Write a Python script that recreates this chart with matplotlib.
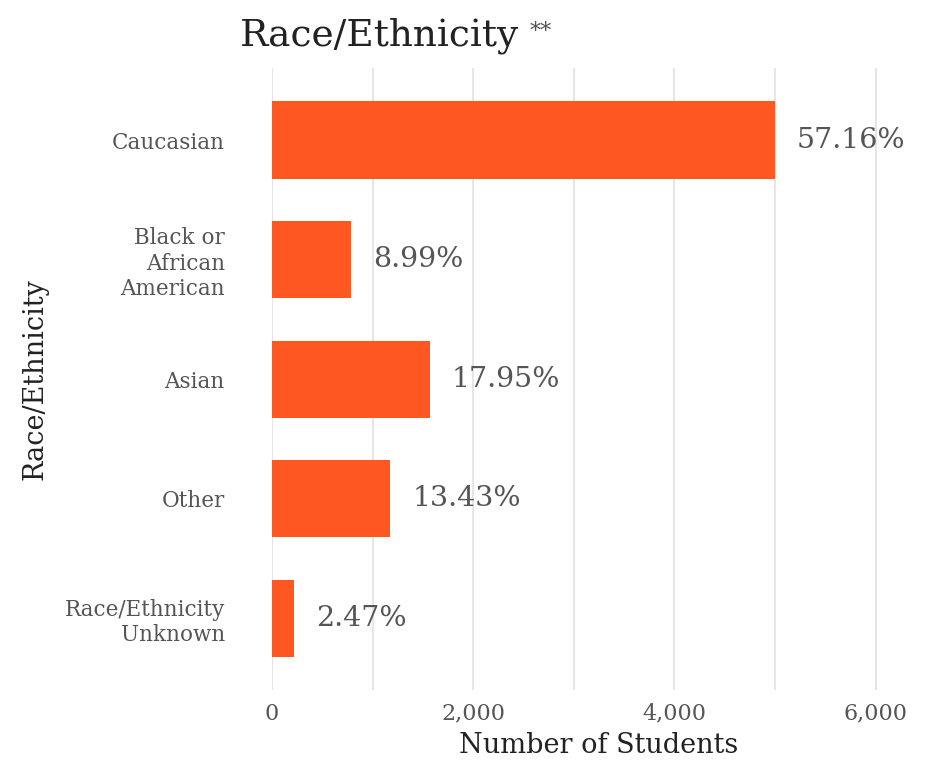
import numpy as np
import matplotlib.pyplot as plt
from matplotlib.ticker import MultipleLocator, FuncFormatter

# student counts by race/ethnicity
categories = ["Caucasian", "Black or\nAfrican\nAmerican", "Asian", "Other",
              "Race/Ethnicity\nUnknown"]
students = [4996, 786, 1569, 1174, 216]
pct_labels = ["57.16%", "8.99%", "17.95%", "13.43%", "2.47%"]

bar_color = "#fe5722"
text_gray = "#555555"
serif = ["DejaVu Serif"]

plt.rcParams["font.family"] = serif

fig = plt.figure(figsize=(9.38, 7.67), dpi=100)
ax = fig.add_axes([0.290, 0.100, 0.697, 0.811])

y = np.arange(len(categories))
ax.barh(y, students, height=0.645, color=bar_color, zorder=3)

for yi, val, lab in zip(y, students, pct_labels):
    ax.text(val + 220, yi, lab, va="center", ha="left",
            fontsize=20.5, color=text_gray, zorder=4)

ax.set_ylim(4.6, -0.6)
ax.set_xlim(0, 6500)
ax.set_yticks(y)
ax.set_yticklabels(categories, fontsize=15.5, color=text_gray, linespacing=1.2)
ax.xaxis.set_major_locator(MultipleLocator(2000))
ax.xaxis.set_minor_locator(MultipleLocator(1000))
ax.xaxis.set_major_formatter(FuncFormatter(lambda v, p: f"{int(v):,}"))
ax.tick_params(axis="x", labelsize=16, labelcolor=text_gray, length=0, pad=9)
ax.tick_params(axis="x", which="minor", length=0)
ax.tick_params(axis="y", length=0, pad=34)

ax.grid(axis="x", which="both", color="#e6e6e6", linewidth=1.5, zorder=0)
for s in ax.spines.values():
    s.set_visible(False)

ax.set_xlabel("Number of Students", fontsize=19.5, color="#222222", labelpad=5)
ax.set_ylabel("Race/Ethnicity", fontsize=19.5, color="#222222")
ax.yaxis.set_label_coords(-0.342, 0.5)

fig.text(0.256, 0.954, "Race/Ethnicity", fontsize=27, color="#222222",
         ha="left", va="center")
fig.text(0.565, 0.958, "**", fontsize=16, color=text_gray,
         ha="left", va="center")

fig.savefig("out.png", dpi=100, facecolor="white")
